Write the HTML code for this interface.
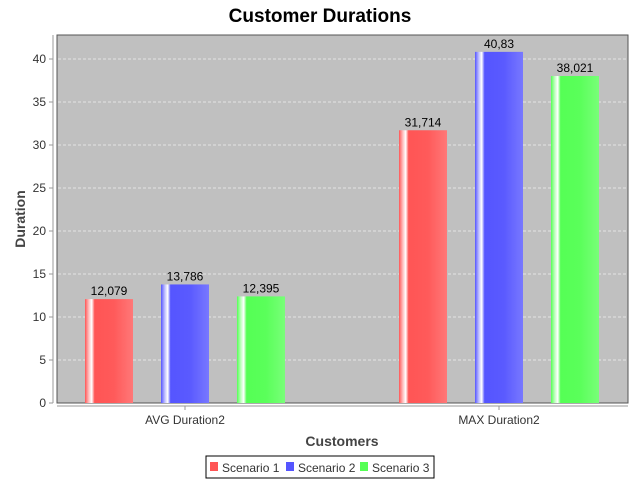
<!DOCTYPE html>
<html><head><meta charset="utf-8"><style>
body{margin:0;background:#fff;font-family:"Liberation Sans","DejaVu Sans",sans-serif}
</style></head><body>
<svg width="640" height="480" xmlns="http://www.w3.org/2000/svg">
<defs>
<linearGradient id="g0" x1="0" x2="1"><stop offset="0" stop-color="#ff5555"/><stop offset="0.08" stop-color="#ffc0c0"/><stop offset="0.14" stop-color="#ffffff"/><stop offset="0.2" stop-color="#ff5555"/><stop offset="0.6" stop-color="#ff5a5a"/><stop offset="1" stop-color="#ff7878"/></linearGradient>
<linearGradient id="g1" x1="0" x2="1"><stop offset="0" stop-color="#5555ff"/><stop offset="0.08" stop-color="#c0c0ff"/><stop offset="0.14" stop-color="#ffffff"/><stop offset="0.2" stop-color="#5555ff"/><stop offset="0.6" stop-color="#5a5aff"/><stop offset="1" stop-color="#7878ff"/></linearGradient>
<linearGradient id="g2" x1="0" x2="1"><stop offset="0" stop-color="#55ff55"/><stop offset="0.08" stop-color="#c0ffc0"/><stop offset="0.14" stop-color="#ffffff"/><stop offset="0.2" stop-color="#55ff55"/><stop offset="0.6" stop-color="#5aff5a"/><stop offset="1" stop-color="#78ff78"/></linearGradient>
</defs>
<text x="320" y="22" text-anchor="middle" font-size="19" font-weight="bold" fill="#000">Customer Durations</text>
<rect x="57" y="35" width="571" height="368" fill="#c0c0c0" stroke="#555" stroke-width="1"/>
<g id="grid"></g>
<g id="bars"></g>
<line x1="53" y1="35" x2="53" y2="403" stroke="#999"/>
<line x1="57" y1="406" x2="628" y2="406" stroke="#999"/>
<g id="yticks" font-size="12" fill="#333"></g>
<g id="xcats" font-size="12" fill="#333"></g>
<text x="342" y="446" text-anchor="middle" font-size="14" font-weight="bold" fill="#444">Customers</text>
<text transform="translate(25,219) rotate(-90)" text-anchor="middle" font-size="14" font-weight="bold" fill="#444">Duration</text>
<g>
<rect x="206" y="456" width="228" height="22" fill="#fff" stroke="#000"/>
<g id="legend" font-size="12" fill="#333"></g>
</g>
</svg>
<script>
const categories=["AVG Duration2","MAX Duration2"];
const series=["Scenario 1","Scenario 2","Scenario 3"];
const s1=[12.079,31.714];
const s2=[13.786,40.83];
const s3=[12.395,38.021];
const labels1=["12,079","31,714"];
const labels2=["13,786","40,83"];
const labels3=["12,395","38,021"];
const yTicks=[0,5,10,15,20,25,30,35,40];
const NS="http://www.w3.org/2000/svg";
const vals=[s1,s2,s3], labs=[labels1,labels2,labels3];
const y=v=>403-v*8.6;
const groupStart=[85,399], bw=48, step=76;
function mk(t,a,p){const e=document.createElementNS(NS,t);for(const k in a)e.setAttribute(k,a[k]);p.appendChild(e);return e;}
const grid=document.getElementById('grid'), yt=document.getElementById('yticks');
yTicks.forEach(v=>{
  if(v>0){const l=mk('line',{x1:58,x2:627,y1:y(v),y2:y(v),stroke:'#eee','stroke-dasharray':'3,2','stroke-width':0.8},grid);
  
  }
  mk('line',{x1:49,x2:53,y1:y(v),y2:y(v),stroke:'#999'},yt);
  const t=mk('text',{x:46,y:y(v)+4,'text-anchor':'end'},yt);t.textContent=v;
  
  
});
const bars=document.getElementById('bars'), xc=document.getElementById('xcats');
categories.forEach((c,i)=>{
  vals.forEach((s,j)=>{
    const x=groupStart[i]+j*step;
    const r=mk('rect',{x:x,y:y(s[i]),width:bw,height:403-y(s[i]),fill:'url(#g'+j+')'},bars);
    
    
    const t=mk('text',{x:x+bw/2,y:y(s[i])-4,'text-anchor':'middle','font-size':12,fill:'#000'},bars);
    t.textContent=labs[j][i];
    
    
  });
  const cx=groupStart[i]+step+bw/2;
  mk('line',{x1:cx,x2:cx,y1:406,y2:410,stroke:'#999'},xc);
  const t=mk('text',{x:cx,y:424,'text-anchor':'middle'},xc);t.textContent=c;
  
  
});
const lg=document.getElementById('legend');
const cols=['#ff5555','#5555ff','#55ff55'], lx=[210,286,360];
series.forEach((s,j)=>{
  const r=mk('rect',{x:lx[j],y:462,width:8,height:9,fill:cols[j]},lg);
  
  
  const t=mk('text',{x:lx[j]+12,y:472},lg);t.textContent=s;
  
  
});
</script>
</body></html>
